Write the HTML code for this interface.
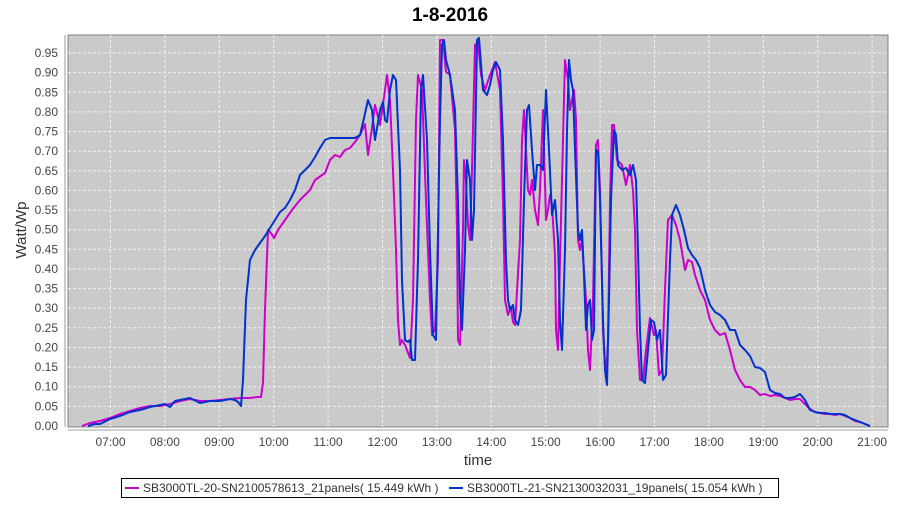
<!DOCTYPE html>
<html><head><meta charset="utf-8"><style>
html,body{margin:0;padding:0;background:#fff;}
svg text{font-family:"Liberation Sans",sans-serif;}
</style></head><body>
<svg width="900" height="500" xmlns="http://www.w3.org/2000/svg">
<text x="450" y="21" text-anchor="middle" font-size="19" font-weight="bold" fill="#000">1-8-2016</text>
<rect x="68" y="35" width="820" height="392" fill="#cacaca" stroke="#808080" stroke-width="1"/>
<g stroke="#f0f0f0" stroke-width="1" stroke-dasharray="3,2">
<line x1="110.5" y1="35" x2="110.5" y2="427"/><line x1="164.9" y1="35" x2="164.9" y2="427"/><line x1="219.3" y1="35" x2="219.3" y2="427"/><line x1="273.7" y1="35" x2="273.7" y2="427"/><line x1="328.1" y1="35" x2="328.1" y2="427"/><line x1="382.5" y1="35" x2="382.5" y2="427"/><line x1="436.9" y1="35" x2="436.9" y2="427"/><line x1="491.3" y1="35" x2="491.3" y2="427"/><line x1="545.7" y1="35" x2="545.7" y2="427"/><line x1="600.1" y1="35" x2="600.1" y2="427"/><line x1="654.5" y1="35" x2="654.5" y2="427"/><line x1="708.9" y1="35" x2="708.9" y2="427"/><line x1="763.3" y1="35" x2="763.3" y2="427"/><line x1="817.7" y1="35" x2="817.7" y2="427"/><line x1="872.1" y1="35" x2="872.1" y2="427"/>
<line x1="68" y1="406.4" x2="888" y2="406.4"/><line x1="68" y1="386.7" x2="888" y2="386.7"/><line x1="68" y1="367.1" x2="888" y2="367.1"/><line x1="68" y1="347.5" x2="888" y2="347.5"/><line x1="68" y1="327.8" x2="888" y2="327.8"/><line x1="68" y1="308.2" x2="888" y2="308.2"/><line x1="68" y1="288.6" x2="888" y2="288.6"/><line x1="68" y1="269" x2="888" y2="269"/><line x1="68" y1="249.3" x2="888" y2="249.3"/><line x1="68" y1="229.7" x2="888" y2="229.7"/><line x1="68" y1="210.1" x2="888" y2="210.1"/><line x1="68" y1="190.4" x2="888" y2="190.4"/><line x1="68" y1="170.8" x2="888" y2="170.8"/><line x1="68" y1="151.2" x2="888" y2="151.2"/><line x1="68" y1="131.5" x2="888" y2="131.5"/><line x1="68" y1="111.9" x2="888" y2="111.9"/><line x1="68" y1="92.3" x2="888" y2="92.3"/><line x1="68" y1="72.6" x2="888" y2="72.6"/><line x1="68" y1="53" x2="888" y2="53"/>
</g>
<line x1="65" y1="35" x2="65" y2="427" stroke="#999"/>
<line x1="68" y1="430" x2="888" y2="430" stroke="#999"/>
<g font-size="12" fill="#444" text-anchor="end">
<text x="58" y="430">0.00</text><text x="58" y="410.4">0.05</text><text x="58" y="390.7">0.10</text><text x="58" y="371.1">0.15</text><text x="58" y="351.5">0.20</text><text x="58" y="331.8">0.25</text><text x="58" y="312.2">0.30</text><text x="58" y="292.6">0.35</text><text x="58" y="273">0.40</text><text x="58" y="253.3">0.45</text><text x="58" y="233.7">0.50</text><text x="58" y="214.1">0.55</text><text x="58" y="194.4">0.60</text><text x="58" y="174.8">0.65</text><text x="58" y="155.2">0.70</text><text x="58" y="135.5">0.75</text><text x="58" y="115.9">0.80</text><text x="58" y="96.3">0.85</text><text x="58" y="76.6">0.90</text><text x="58" y="57">0.95</text>
</g>
<g font-size="12" fill="#444" text-anchor="middle">
<text x="110.5" y="446">07:00</text><text x="164.9" y="446">08:00</text><text x="219.3" y="446">09:00</text><text x="273.7" y="446">10:00</text><text x="328.1" y="446">11:00</text><text x="382.5" y="446">12:00</text><text x="436.9" y="446">13:00</text><text x="491.3" y="446">14:00</text><text x="545.7" y="446">15:00</text><text x="600.1" y="446">16:00</text><text x="654.5" y="446">17:00</text><text x="708.9" y="446">18:00</text><text x="763.3" y="446">19:00</text><text x="817.7" y="446">20:00</text><text x="872.1" y="446">21:00</text>
</g>
<text x="478" y="465" text-anchor="middle" font-size="15" fill="#333">time</text>
<text transform="translate(26,230) rotate(-90)" text-anchor="middle" font-size="15" fill="#333">Watt/Wp</text>
<polyline fill="none" stroke="#cc00cc" stroke-width="2" stroke-linejoin="round" points="82,426 90,423 100,421 110,418 120,414 130,411 140,408 150,406 160,406 170,404 180,401 190,399 200,401 210,401 220,400 230,399 240,398 250,398 258,397 261,397 263,383 265,310 268,230 271,233 274,238 278,230 285,220 292,210 300,200 310,190 315,180 325,173 330,160 335,155 340,157 345,150 350,148 355,142 360,135 365,124 368,155 372,128 375,105 380,125 385,90 387,75 390,100 393,170 396,250 398,320 400,345 402,340 405,345 410,358 413,300 416,120 418,75 422,90 426,200 430,300 432,335 435,330 438,260 440,40 443,40 446,72 450,75 455,130 457,230 458,340 460,345 463,230 464,160 466,180 468,225 470,240 472,170 475,45 478,42 481,75 485,90 490,75 492,70 495,62 500,90 503,200 505,300 508,315 511,307 513,322 515,325 520,240 522,140 524,110 528,190 530,195 532,180 535,210 538,225 540,190 543,110 546,220 548,210 550,195 552,205 555,255 556,330 558,350 560,260 563,140 565,60 568,80 570,110 574,90 576,120 578,240 580,250 582,240 584,270 586,300 588,350 590,370 593,300 596,145 598,140 600,190 603,330 606,380 608,340 610,200 612,125 614,125 617,160 622,165 626,185 630,165 633,190 635,230 637,330 640,380 643,380 646,350 650,318 654,335 656,330 659,375 662,370 665,290 668,220 672,215 676,225 680,240 685,270 688,260 692,262 695,275 700,290 705,300 710,320 715,330 720,335 725,333 730,350 735,370 740,380 745,387 750,387 755,390 760,395 765,394 770,396 775,395 780,396 785,398 790,400 795,399 800,399 805,404 810,409 815,412 820,413 825,414 830,414 835,415 840,414 845,416 850,418 855,421 860,422 865,424 870,426"/>
<polyline fill="none" stroke="#0033cc" stroke-width="2" stroke-linejoin="round" points="88,426 95,424 100,424 110,419 120,416 130,412 140,410 150,407 160,405 165,404 170,407 175,401 180,400 190,398 200,403 210,401 220,401 230,399 235,400 238,402 241,406 243,380 246,300 250,260 255,250 260,243 265,236 270,228 275,220 280,212 285,208 290,200 295,190 300,175 305,170 310,165 315,157 320,148 325,140 330,138 340,138 350,138 355,138 360,135 364,118 368,100 372,110 375,140 380,110 383,102 385,120 387,122 390,90 393,75 396,80 400,170 402,280 405,340 408,342 410,340 412,360 415,360 418,260 421,90 423,75 427,140 430,250 433,335 436,340 438,230 440,120 442,45 444,40 446,60 450,75 455,110 458,200 460,300 462,330 465,250 467,160 470,180 472,240 474,210 477,40 479,38 483,90 487,95 490,85 493,70 496,62 500,70 503,140 506,260 508,300 510,310 513,305 515,320 518,325 521,310 524,200 527,110 529,105 532,150 535,190 537,165 540,165 543,170 546,90 549,150 552,215 555,200 558,240 560,320 562,350 565,250 567,130 569,60 571,80 573,90 575,150 578,230 580,240 582,230 584,275 586,330 588,305 590,300 592,340 594,330 596,150 598,152 600,200 603,320 605,370 607,385 609,300 611,200 614,130 616,135 618,165 622,170 626,168 630,175 633,165 636,180 638,250 640,330 642,380 645,383 648,350 651,320 654,322 657,340 660,330 663,380 666,375 670,260 672,215 676,205 680,215 684,230 688,248 692,255 696,260 700,268 705,290 710,305 715,312 720,315 725,320 730,330 735,330 740,345 745,350 750,356 755,367 760,368 765,372 770,390 775,393 780,394 785,398 790,398 795,397 800,394 805,400 810,410 815,412 820,413 825,413 830,414 835,414 840,414 845,415 850,418 855,420 860,422 865,424 870,426"/>
<rect x="121.5" y="478.5" width="657" height="19" fill="#fff" stroke="#000"/>
<line x1="125" y1="488" x2="139" y2="488" stroke="#cc00cc" stroke-width="2"/>
<line x1="449" y1="488" x2="463" y2="488" stroke="#0033cc" stroke-width="2"/>
<g font-size="12" fill="#333">
<text x="143" y="492">SB3000TL-20-SN2100578613_21panels( 15.449 kWh )</text>
<text x="467" y="492">SB3000TL-21-SN2130032031_19panels( 15.054 kWh )</text>
</g>
</svg>
</body></html>
